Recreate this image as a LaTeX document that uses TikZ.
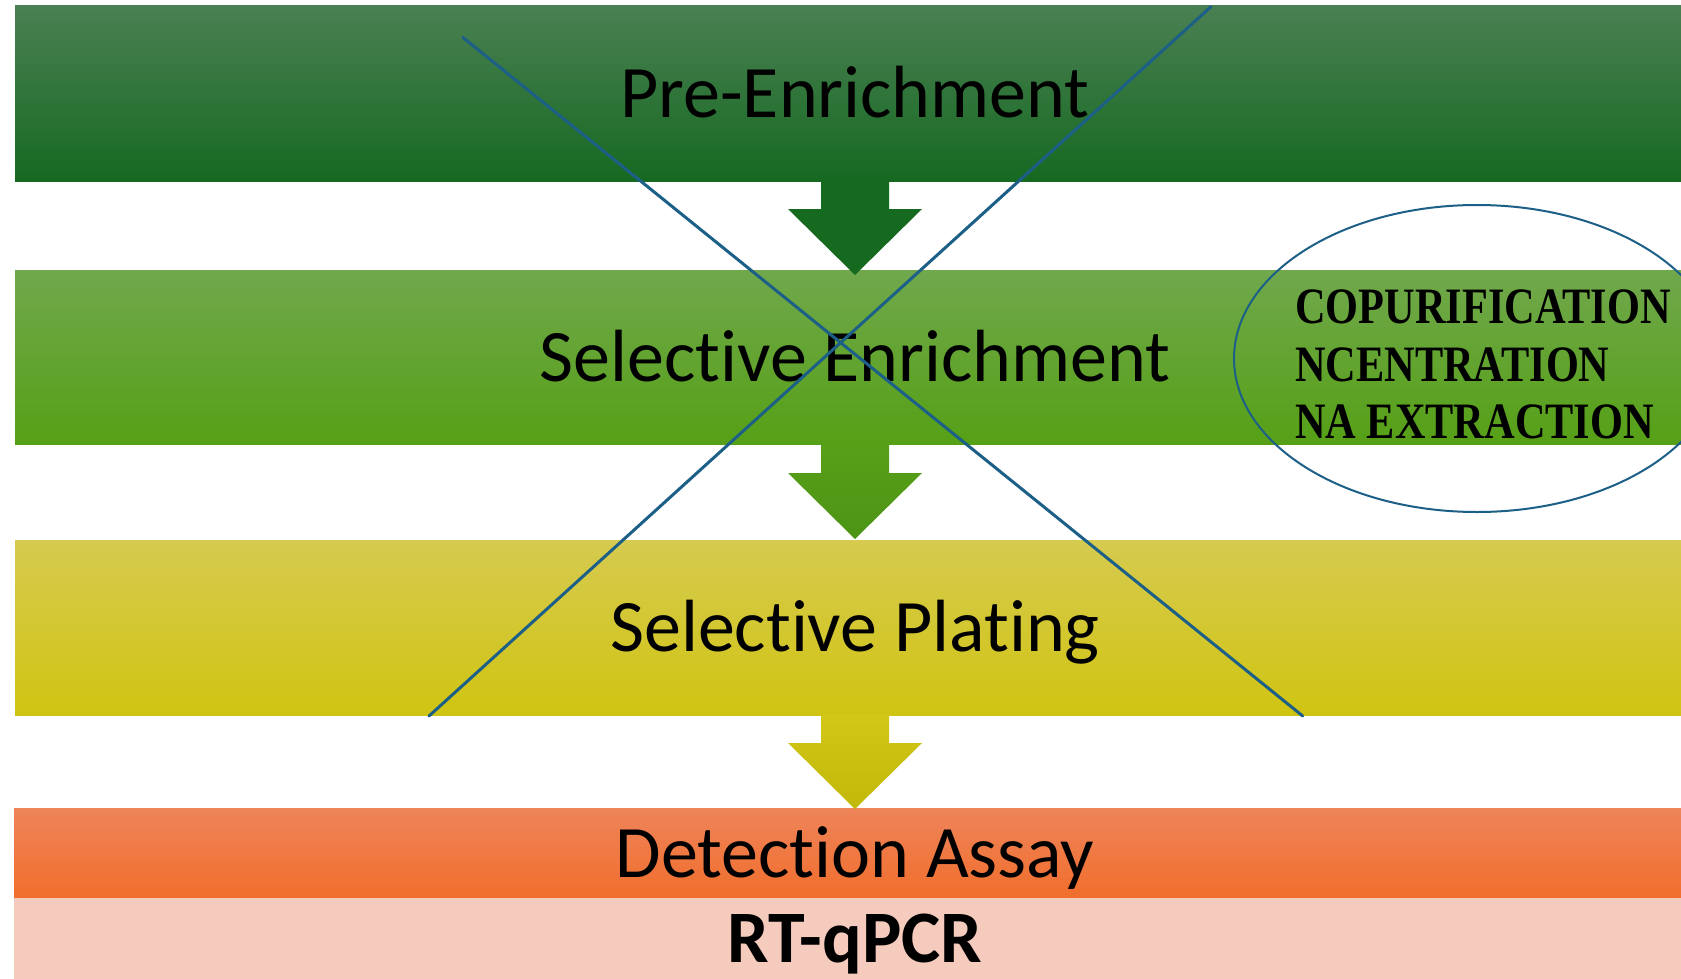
\documentclass[tikz,border=0pt]{standalone}
\usepackage{fontspec}
\setmainfont{Carlito}[RawFeature={-liga;-clig;-dlig;-rlig;-ccmp;-calt}]
\newfontfamily\cambriafont{Liberation Serif}
\usetikzlibrary{shapes.geometric}
\definecolor{gAtop}{RGB}{74,128,83}
\definecolor{gAbot}{RGB}{22,105,33}
\definecolor{gBtop}{RGB}{112,168,76}
\definecolor{gBbot}{RGB}{86,160,22}
\definecolor{yCtop}{RGB}{214,202,80}
\definecolor{yCbot}{RGB}{208,196,18}
\definecolor{oDtop}{RGB}{238,132,90}
\definecolor{oDbot}{RGB}{241,110,44}
\definecolor{pinkE}{RGB}{245,203,190}
\definecolor{arrA}{RGB}{22,106,32}
\definecolor{arrBtop}{RGB}{88,160,24}
\definecolor{arrBbot}{RGB}{76,148,20}
\definecolor{arrCtop}{RGB}{210,198,22}
\definecolor{arrCbot}{RGB}{194,184,8}
\definecolor{crossblue}{RGB}{28,95,135}
\tikzset{
  steptext/.style={anchor=base, inner sep=0pt, font=\fontsize{74}{80}\selectfont},
  stepbold/.style={anchor=base, inner sep=0pt, font=\fontsize{74}{80}\selectfont\bfseries},
  copline/.style={anchor=base west, inner sep=0pt, font=\cambriafont\bfseries\fontsize{51}{57}\selectfont},
  crossline/.style={draw=crossblue, line width=3pt, line cap=round},
}
\begin{document}
\begin{tikzpicture}[x=1pt,y=-1pt]
\useasboundingbox (0,0) rectangle (1681,979);
\clip (0,0) rectangle (1681,979);
\fill[white] (0,0) rectangle (1681,979);
% bands
\shade[top color=gAtop, bottom color=gAbot] (15,6) rectangle (1681,181.5);
\shade[top color=gBtop, bottom color=gBbot] (15,270) rectangle (1681,444);
\shade[top color=yCtop, bottom color=yCbot] (15,540) rectangle (1681,715);
\shade[top color=oDtop, bottom color=oDbot] (14,808) rectangle (1681,897.5);
\fill[pinkE] (14,897.5) rectangle (1681,979);
% block arrows
\fill[arrA] (821,181) -- (821,209) -- (788,209) -- (855,275) -- (922,209) -- (889,209) -- (889,181) -- cycle;
\shade[top color=arrBtop, bottom color=arrBbot] (821,443.5) -- (821,473) -- (788,473) -- (855,539) -- (922,473) -- (889,473) -- (889,443.5) -- cycle;
\shade[top color=arrCtop, bottom color=arrCbot] (821,714.5) -- (821,743) -- (788,743) -- (855,809) -- (922,743) -- (889,743) -- (889,714.5) -- cycle;
% texts
\node[steptext] (pre) at (855,118) {Pre-Enrichment};
\node[steptext] (selenr) at (855,381) {Selective Enrichment};
\node[steptext] (selpl) at (855,651) {Selective Plating};
\node[steptext] (detect) at (855,877) {Detection Assay};
\node[stepbold] (rtq) at (855,962) {RT-qPCR};
% ellipse and its text
\node[draw=crossblue, line width=2pt, ellipse, minimum width=486pt, minimum height=307pt, inner sep=0pt] (ell) at (1477,358.5) {};
\node[copline] (cop1) at (1295,323) {\scalebox{0.83}[1]{COPURIFICATION}};
\node[copline] (cop2) at (1295,381) {\scalebox{0.83}[1]{NCENTRATION}};
\node[copline] (cop3) at (1295,438) {\scalebox{0.83}[1]{NA EXTRACTION}};
% cross
\coordinate (xa1) at (462.7,37.3);
\coordinate (xa2) at (1302.7,716);
\coordinate (xb1) at (1211,6.7);
\coordinate (xb2) at (429,716);
\draw[crossline] (xa1) -- (xa2);
\draw[crossline] (xb1) -- (xb2);
\end{tikzpicture}
\end{document}
